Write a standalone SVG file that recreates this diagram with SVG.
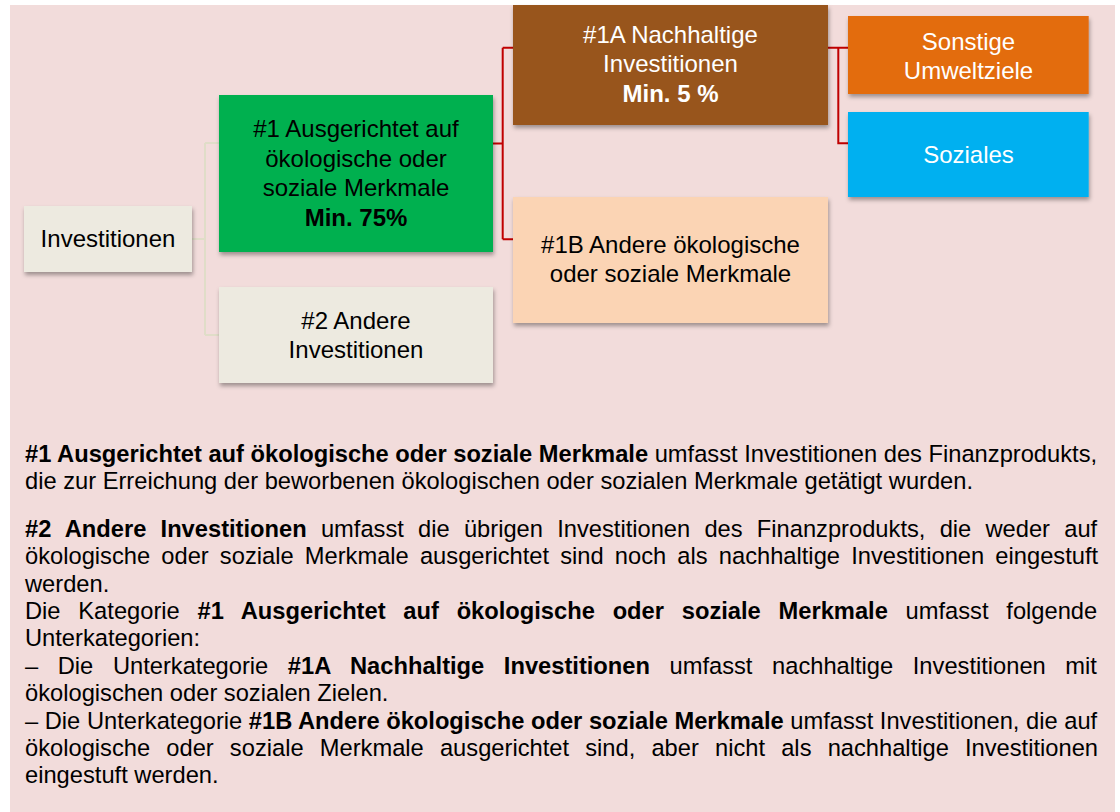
<svg xmlns="http://www.w3.org/2000/svg" width="1120" height="812" viewBox="0 0 1120 812">
<defs>
<filter id="sh" x="-10%" y="-10%" width="125%" height="135%">
<feDropShadow dx="1" dy="3" stdDeviation="2" flood-color="#000" flood-opacity="0.35"/>
</filter>
<style>
.t{font-family:"Liberation Sans",Arial,sans-serif;font-size:24px;text-anchor:middle}
.b{font-weight:bold}
.w{fill:#fff}
.k{fill:#000}
.body{font-family:"Liberation Sans",Arial,sans-serif;font-size:23.7px;fill:#000}
.cb{fill:none;stroke:#E0DDC8;stroke-width:2}
.cr{fill:none;stroke:#C00000;stroke-width:2}
</style>
</defs>
<rect x="0" y="0" width="1120" height="812" fill="#fff"/>
<rect x="10" y="5" width="1105" height="807" fill="#F2DCDB"/>

<g id="connectors">
<path class="cb" d="M192,239 H205 M205,143 V335 M205,143 H219 M205,335 H219"/>
<path class="cr" d="M493,143.5 H502.7 M502.7,47.7 V239.3 M502.7,47.7 H513 M502.7,239.3 H513"/>
<path class="cr" d="M828,47.7 H848 M838.3,47.7 V143.3 H848"/>
</g>

<g id="investitionen">
<rect x="24" y="206" width="168" height="66" fill="#EDEAE0" filter="url(#sh)"/>
<text class="t k" x="108" y="247.3">Investitionen</text>
</g>

<g id="n1">
<rect x="219" y="95" width="274" height="157" fill="#00B050" filter="url(#sh)"/>
<text class="t k" x="356" y="137">#1 Ausgerichtet auf</text>
<text class="t k" x="356" y="166.5">ökologische oder</text>
<text class="t k" x="356" y="196">soziale Merkmale</text>
<text class="t k b" x="356" y="225.5">Min. 75%</text>
</g>

<g id="n2">
<rect x="219" y="287" width="274" height="96" fill="#EDEAE0" filter="url(#sh)"/>
<text class="t k" x="356" y="328.5">#2 Andere</text>
<text class="t k" x="356" y="357.5">Investitionen</text>
</g>

<g id="n1a">
<rect x="513" y="5" width="315" height="120" fill="#98541F" filter="url(#sh)"/>
<text class="t w" x="670.5" y="42.5">#1A Nachhaltige</text>
<text class="t w" x="670.5" y="72">Investitionen</text>
<text class="t w b" x="670.5" y="101.5">Min. 5 %</text>
</g>

<g id="n1b">
<rect x="513" y="197" width="315" height="126" fill="#FBD4B4" filter="url(#sh)"/>
<text class="t k" x="670.5" y="252.5">#1B Andere ökologische</text>
<text class="t k" x="670.5" y="281.5">oder soziale Merkmale</text>
</g>

<g id="sonstige">
<rect x="848" y="16" width="240.7" height="78" fill="#E36C0A" filter="url(#sh)"/>
<text class="t w" x="968.5" y="50">Sonstige</text>
<text class="t w" x="968.5" y="79">Umweltziele</text>
</g>

<g id="soziales">
<rect x="848" y="112" width="240.7" height="85" fill="#00B0F0" filter="url(#sh)"/>
<text class="t w" x="968.5" y="162.5">Soziales</text>
</g>

<g id="description">
<text class="body" x="25" y="461.9"><tspan class="b">#1 Ausgerichtet auf ökologische oder soziale Merkmale</tspan> umfasst Investitionen des Finanzprodukts,</text>
<text class="body" x="25" y="489.3">die zur Erreichung der beworbenen ökologischen oder sozialen Merkmale getätigt wurden.</text>
<text class="body" x="25" y="536.7" word-spacing="7.66"><tspan class="b">#2 Andere Investitionen</tspan> umfasst die übrigen Investitionen des Finanzprodukts, die weder auf</text>
<text class="body" x="25" y="564.1" word-spacing="4.6">ökologische oder soziale Merkmale ausgerichtet sind noch als nachhaltige Investitionen eingestuft</text>
<text class="body" x="25" y="591.5">werden.</text>
<text class="body" x="25" y="618.9" word-spacing="11.2">Die Kategorie <tspan class="b">#1 Ausgerichtet auf ökologische oder soziale Merkmale</tspan> umfasst folgende</text>
<text class="body" x="25" y="646.3">Unterkategorien:</text>
<text class="body" x="25" y="673.7" word-spacing="13.0">– Die Unterkategorie <tspan class="b">#1A Nachhaltige Investitionen</tspan> umfasst nachhaltige Investitionen mit</text>
<text class="body" x="25" y="701.1">ökologischen oder sozialen Zielen.</text>
<text class="body" x="25" y="728.5">– Die Unterkategorie <tspan class="b">#1B Andere ökologische oder soziale Merkmale</tspan> umfasst Investitionen, die auf</text>
<text class="body" x="25" y="755.9" word-spacing="9.6">ökologische oder soziale Merkmale ausgerichtet sind, aber nicht als nachhaltige Investitionen</text>
<text class="body" x="25" y="783.3">eingestuft werden.</text>
</g>
</svg>
